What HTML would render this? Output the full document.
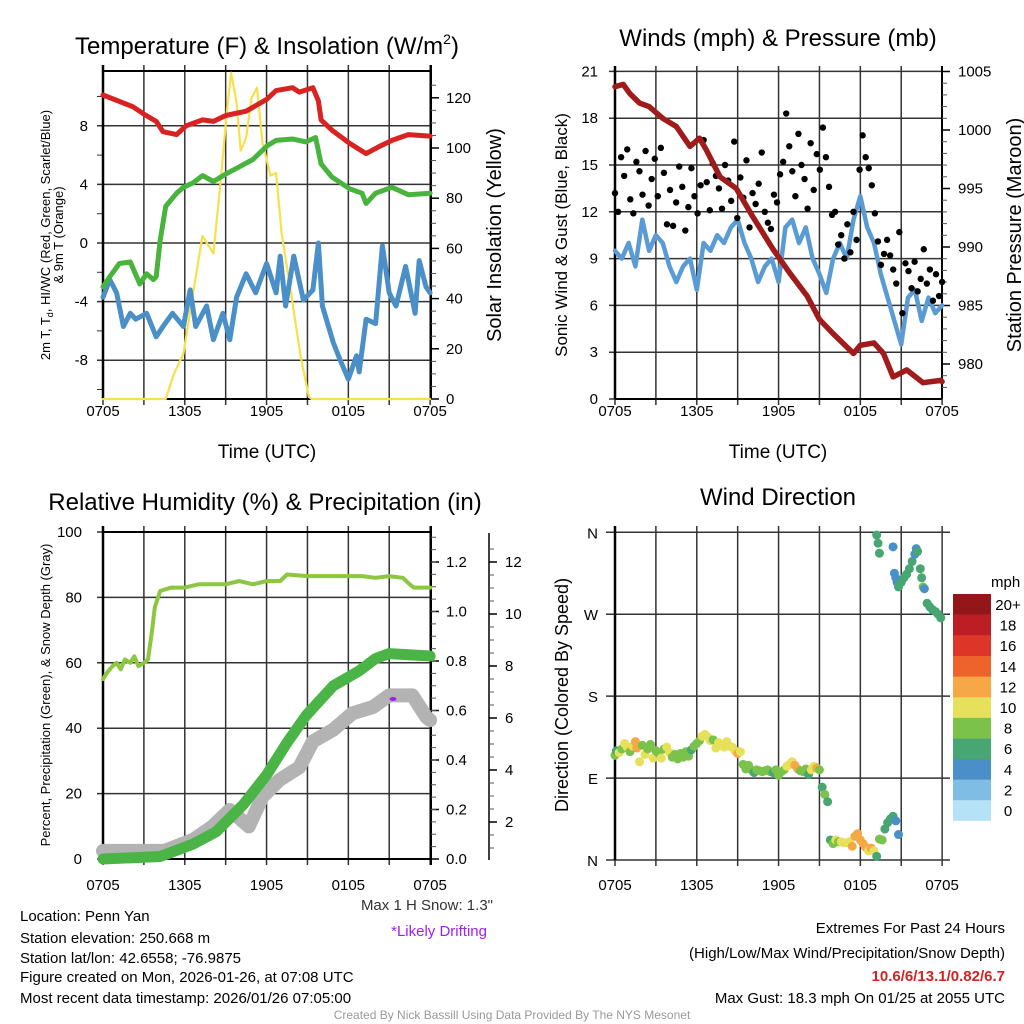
<!DOCTYPE html>
<html><head><meta charset="utf-8">
<style>
html,body{margin:0;padding:0;background:#fff;}
svg{display:block;font-family:"Liberation Sans",sans-serif;}
</style></head>
<body>
<svg id="chart" width="1024" height="1024" viewBox="0 0 1024 1024" xmlns="http://www.w3.org/2000/svg">
<text x="267" y="54" font-size="24" text-anchor="middle">Temperature (F) &amp; Insolation (W/m<tspan font-size="14" dy="-10">2</tspan><tspan dy="10">)</tspan></text>
<text x="778" y="46" font-size="24" text-anchor="middle">Winds (mph) &amp; Pressure (mb)</text>
<text x="265" y="510" font-size="24" text-anchor="middle">Relative Humidity (%) &amp; Precipitation (in)</text>
<text x="778" y="505" font-size="24" text-anchor="middle">Wind Direction</text>

<text transform="translate(50,235) rotate(-90)" font-size="13" text-anchor="middle">2m T, T<tspan font-size="9" dy="3">d</tspan><tspan dy="-3">, HI/WC (Red, Green, Scarlet/Blue)</tspan></text>
<text transform="translate(63,235) rotate(-90)" font-size="13" text-anchor="middle">&amp; 9m T (Orange)</text>
<text transform="translate(501,235) rotate(-90)" font-size="20" text-anchor="middle">Solar Insolation (Yellow)</text>
<text transform="translate(567,235) rotate(-90)" font-size="17" text-anchor="middle">Sonic Wind &amp; Gust (Blue, Black)</text>
<text transform="translate(1021,235) rotate(-90)" font-size="20" text-anchor="middle">Station Pressure (Maroon)</text>
<text transform="translate(50,695) rotate(-90)" font-size="13" text-anchor="middle">Percent, Precipitation (Green), &amp; Snow Depth (Gray)</text>
<text transform="translate(568,695) rotate(-90)" font-size="18" text-anchor="middle">Direction (Colored By Speed)</text>
<text x="267" y="458" font-size="19" text-anchor="middle">Time (UTC)</text>
<text x="778" y="458" font-size="19" text-anchor="middle">Time (UTC)</text>

<g font-size="15">
<text x="20" y="921">Location: Penn Yan</text>
<text x="20" y="943">Station elevation: 250.668 m</text>
<text x="20" y="963">Station lat/lon: 42.6558; -76.9875</text>
<text x="20" y="982">Figure created on Mon, 2026-01-26, at 07:08 UTC</text>
<text x="20" y="1003">Most recent data timestamp: 2026/01/26 07:05:00</text>
<text x="493" y="910" text-anchor="end" fill="#333">Max 1 H Snow: 1.3"</text>
<text x="487" y="936" text-anchor="end" fill="#a020f0">*Likely Drifting</text>
<text x="1005" y="933" text-anchor="end">Extremes For Past 24 Hours</text>
<text x="1005" y="958" text-anchor="end">(High/Low/Max Wind/Precipitation/Snow Depth)</text>
<text x="1005" y="981" text-anchor="end" fill="#d62222" font-weight="bold">10.6/6/13.1/0.82/6.7</text>
<text x="1005" y="1003" text-anchor="end">Max Gust: 18.3 mph On 01/25 at 2055 UTC</text>
<text x="512" y="1019" text-anchor="middle" font-size="12" fill="#999">Created By Nick Bassill Using Data Provided By The NYS Mesonet</text>
</g>
</svg>
<script>
// ---------- data ----------
const xTickLabels = ["0705","1305","1905","0105","0705"];
const tempHours = [0,2.2,3,3.9,4.4,5.4,6.1,7.3,8.1,9,10.5,12,12.7,13.9,14.4,15.4,15.8,16,16.8,18.1,19.3,20.3,21.2,22.4,24];
const tempVals  = [10.1,9.3,8.8,8.3,7.6,7.4,8.0,8.4,8.3,8.7,9.0,9.8,10.4,10.6,10.3,10.6,9.7,8.4,7.7,6.8,6.1,6.6,7.0,7.4,7.3];
const dewHours = [0,0.5,1.2,2,2.7,3.2,3.7,3.9,4.2,4.6,5.4,5.9,6.6,7.3,8.1,9,10,11,12,12.7,13.9,14.9,15.6,16,16.8,18.1,19,19.3,20,21.2,22.4,24];
const dewVals  = [-3.0,-2.3,-1.4,-1.3,-2.8,-2.1,-2.5,-2.3,0.2,2.5,3.4,3.8,4.1,4.6,4.2,4.7,5.2,5.7,6.6,7.0,7.1,6.9,7.2,5.4,4.5,3.7,3.4,2.7,3.4,3.8,3.3,3.4];
const chillHours = [0,0.5,1,1.5,2,2.4,3.2,3.9,4.4,5.1,5.9,6.4,6.8,7.6,8.1,8.8,9.3,9.8,10.5,11.2,12,12.7,13,13.4,14,14.7,15.4,15.8,16.1,16.9,17.4,18,18.6,18.8,19.3,20,20.5,21,21.5,22.2,22.9,23.2,23.7,24];
const chillVals  = [-3.7,-2.5,-3.4,-5.7,-4.8,-5.2,-4.8,-6.4,-5.7,-4.8,-5.7,-3.2,-5.7,-4.3,-6.6,-4.8,-6.6,-3.7,-2.1,-3.4,-1.4,-3.4,-0.9,-4.3,-0.9,-3.9,-3.2,0,-4.3,-6.8,-8.0,-9.3,-7.7,-8.8,-5.2,-5.5,-0.2,-3.4,-4.3,-1.6,-4.8,-1.2,-3.0,-3.4];
const solHours = [0,4.6,5.2,5.9,6.6,7.3,8.1,8.6,9.1,9.4,9.8,10.1,10.5,10.9,11.3,11.7,12.3,12.7,13.1,13.8,14.5,15.1,15.3,24];
const solVals  = [0,0,10,18,42,65,58,85,115,130,118,99,104,120,124,102,89,90,66,42,17,1,0,0];
const tempTicks = [-8,-4,0,4,8];
const solTicks = [0,20,40,60,80,100,120];

const windVals = [9.5,9,10,8.5,11.5,9.5,10.5,10,8.5,7.5,8.5,9,7,10,9.5,10.5,10,11,11.5,10,9,7.5,8.5,9,7.5,11,11.5,10,11,9,8,6.8,9,10,9,11.5,13,11,10,8,6.5,5,3.5,6.5,7,5,6.5,5.5,6];
const gustVals = [13.2,12.0,15.5,14.3,16.0,12.8,11.9,15.2,14.6,13.1,15.9,12.4,14.1,15.4,13.0,16.1,14.5,11.2,
 13.4,11.1,12.6,14.9,13.6,10.8,12.3,14.8,13.0,11.9,13.7,16.6,13.9,12.1,15.1,14.3,13.5,12.2,
 15.0,14.0,12.7,16.5,11.6,14.2,12.9,15.3,11.0,13.2,12.5,13.8,15.8,12.0,11.3,10.9,13.1,12.6,
 14.4,15.2,18.3,16.2,14.6,13.0,17.0,15.0,14.1,12.2,16.4,13.4,15.7,14.7,17.4,15.5,13.6,11.8,
 12.0,9.9,10.5,9.0,11.2,9.4,12.0,10.2,14.7,16.9,15.5,14.8,13.7,11.9,10.1,8.6,9.3,10.2,
 9.2,8.3,7.4,10.7,5.5,8.7,8.2,7.1,8.8,6.9,7.7,9.6,7.4,8.3,6.3,8.0,6.6,7.5];
const presHours = [0,0.6,1.1,1.8,2.5,3.5,4.5,5.5,6.2,6.7,7.7,8.9,10.1,11.6,12.8,14.1,15,16,17.5,18,19,19.7,20.4,21.4,22.6,23.9,24];
const presVals  = [1003.7,1003.9,1003.1,1002.3,1002,1001,1000.3,998.6,999.3,998.3,996,995,992.6,989.8,987.8,985.8,983.8,982.6,980.9,981.6,981.8,980.9,978.9,979.5,978.4,978.6,978.5];
const windTicks = [0,3,6,9,12,15,18,21];
const presTicks = [980,985,990,995,1000,1005];

const rhHours = [0,0.3,0.7,1,1.3,1.6,2,2.3,2.6,3,3.3,3.6,3.8,4.2,5,6,7,8,9,10,11,12,13,13.5,15,17,19,20,21,22,22.5,22.8,24];
const rhVals  = [55,57,59,60,58,61,60,62,59,60,61,70,77,82,83,83,84,84,84,85,84,85,85,87,86.5,86.5,86.5,86,86.5,86,84,83,83];
const precipHours = [0,4.2,6.6,8.3,10.3,12,13.5,14.9,16.9,18.8,20,21,24];
const precipVals  = [0,0.01,0.06,0.11,0.22,0.34,0.47,0.58,0.70,0.76,0.81,0.83,0.82];
const snowHours = [0,4.5,6.6,8,9.3,10.7,11.7,12.9,14.4,15.4,16.9,18.3,19.8,21,22.7,23.7,24];
const snowVals  = [0.89,0.89,1.31,1.81,2.46,1.83,2.97,3.6,4.1,5.1,5.55,6.18,6.42,6.87,6.87,6.05,5.92];
const rhTicks = [0,20,40,60,80,100];
const precipTicks = [0,0.2,0.4,0.6,0.8,1.0,1.2];
const snowTicks = [2,4,6,8,10,12];

const dirHours = [0,0.1,0.3,0.5,0.7,0.9,1.1,1.3,1.5,1.6,1.8,2,2.2,2.4,2.6,2.8,3,3.2,3.4,3.6,3.8,4,4.2,4.4,4.6,4.8,5,5.2,5.4,5.6,5.8,6,6.2,6.4,6.6,6.8,7,7.2,7.4,7.6,7.8,8,8.2,8.4,8.6,8.8,9,9.2,9.4,9.6,9.8,10,10.2,10.4,10.6,10.8,11,11.2,11.4,11.6,11.8,12,12.2,12.4,12.6,12.8,13,13.2,13.4,13.6,13.8,14,14.2,14.4,14.6,14.8,15,15.2,15.4,15.6,15.8,16,16.2,16.4,16.6,16.8,17,17.2,17.4,17.6,17.8,18,18.2,18.4,18.6,18.8,19,19.2,19.4,19.6,19.8,20,20.2,20.4,20.6,20.8,19.2,19.3,19.4,20.4,20.5,20.6,20.7,20.8,21,21.2,21.4,21.6,21.8,22,22.1,22.2,22.4,22.5,22.6,22.7,22.9,23.1,23.3,23.5,23.7,23.9];
const dirVals = [115,120,118,122,128,124,119,125,130,123,108,126,116,122,127,112,120,117,112,122,124,118,113,116,111,117,113,119,114,121,125,128,131,136,138,135,131,132,123,129,126,124,130,125,124,120,117,119,105,100,104,99,96,99,98,97,98,99,97,96,99,93,97,99,103,105,108,104,100,98,97,100,94,99,103,101,99,80,72,64,22,18,22,20,20,19,19,20,15,26,29,22,18,14,10,13,10,4,23,22,34,41,45,48,43,28,357,348,337,344,315,310,305,300,305,310,314,320,328,336,342,339,320,310,300,298,282,278,275,273,270,266];
const dirSpeeds = [9,7,10,9,10,10,9,11,13,12,10,9,10,8,9,10,9,8,10,9,10,11,8,9,8,8,9,8,8,7,8,9,8,10,10,11,10,9,10,11,10,11,10,10,10,11,12,10,8,8,9,8,6,8,8,8,9,8,8,7,9,8,8,8,10,10,11,12,13,8,8,8,7,10,10,12,8,6,8,6,7,8,10,8,10,10,10,11,12,13,13,12,12,12,10,12,10,6,8,8,6,6,6,6,4,4,6,6,6,4,4,4,4,6,6,6,6,6,6,4,4,6,6,6,8,4,6,6,6,6,6,6];
const speedBins = ["0","2","4","6","8","10","12","14","16","18","20+"];
const binColors = ["#b5e2f6","#7fbde4","#4a8fc7","#48a672","#7bc24a","#e6e05a","#f5a845","#ee632b","#de3529","#bd1e26","#931719"];
const dirTickLabels = ["N","E","S","W","N"];
const dirTicks = [0,90,180,270,360];

// ---------- helpers ----------
const svg = document.getElementById('chart');
const NS = 'http://www.w3.org/2000/svg';
function mk(tag, attrs, name, parent){
  const el = document.createElementNS(NS, tag);
  for (const k in attrs) el.setAttribute(k, attrs[k]);
  
  
  (parent || svg).appendChild(el);
  return el;
}
function line(x1,y1,x2,y2,stroke,w,name){ return mk('line',{x1:x1,y1:y1,x2:x2,y2:y2,stroke:stroke,'stroke-width':w},name); }
function txt(x,y,s,size,anchor,name){ const t = mk('text',{x:x,y:y,'font-size':size,'text-anchor':anchor},name); t.textContent = s; return t; }
function poly(xs,ys,fx,fy,stroke,w,name){
  const pts = xs.map((h,i)=>fx(h).toFixed(1)+','+fy(ys[i]).toFixed(1)).join(' ');
  return mk('polyline',{points:pts,fill:'none',stroke:stroke,'stroke-width':w,'stroke-linejoin':'round','stroke-linecap':'round'},name);
}
function xGridAndLabels(x0,x1,yTop,yBot,labY,fx,prefix){
  for (let h=0; h<=24; h+=3){
    line(fx(h),yTop-6,fx(h),yBot+6,'#333',1.5,prefix+'-x-gridline');
  }
  xTickLabels.forEach((s,i)=>txt(fx(i*6),labY,s,15,'middle',prefix+'-x-tick-label'));
}

// ---------- panel 1: temperature ----------
const X1 = h => 103 + h*13.63;
const TY = v => 243 - v*14.65;
const SY = v => 399 - v*2.51;
xGridAndLabels(103,431,71,399,416,X1,'temp');
tempTicks.forEach(v=>{ line(97,TY(v),431,TY(v),'#333',1.5,'temp-y-gridline'); txt(88,TY(v)+5,String(v),15,'end','temp-y-tick-label'); });
for (let v=-10; v<=10; v+=4) line(97,TY(v),103,TY(v),'#333',1,'temp-y-minor-tick');
line(103,71,431,71,'#000',2,'temp-top-border');
line(103,65,103,399,'#000',2.5,'temp-left-axis');
line(431,65,431,399,'#000',2,'temp-right-axis');
line(103,399,431,399,'#000',2,'temp-bottom-border');
solTicks.forEach(v=>{ line(431,SY(v),439,SY(v),'#000',1.5,'insolation-tick'); txt(446,SY(v)+5,String(v),15,'start','insolation-tick-label'); });
for (let v=5; v<130; v+=5) if (v%20) line(431,SY(v),436,SY(v),'#555',1,'insolation-minor-tick');
poly(solHours,solVals,X1,SY,'#f8e04a',2.2,'insolation-line');
poly(chillHours,chillVals,X1,TY,'#4a8fc8',5,'wind-chill-line');
poly(dewHours,dewVals,X1,TY,'#48b43e',5,'dewpoint-line');
poly(tempHours,tempVals,X1,TY,'#d92323',5,'temperature-line');

// ---------- panel 2: winds ----------
const X2 = h => 615 + h*13.63;
const WY = v => 399 - v*15.6;
const PY = p => 364 - (p-980)*11.7;
xGridAndLabels(615,942,72,399,416,X2,'wind');
windTicks.forEach(v=>{ line(609,WY(v),942,WY(v),'#333',1.5,'wind-y-gridline'); txt(598,WY(v)+5,String(v),15,'end','wind-y-tick-label'); });
line(615,66,615,399,'#000',2.5,'wind-left-axis');
line(942,66,942,399,'#000',2,'wind-right-axis');
line(615,399,942,399,'#000',2,'wind-bottom-border');
presTicks.forEach(p=>{ line(942,PY(p),950,PY(p),'#000',1.5,'pressure-tick'); txt(958,PY(p)+5,String(p),15,'start','pressure-tick-label'); });
for (let p=978; p<1005; p++) if (p%5) line(942,PY(p),947,PY(p),'#555',1,'pressure-minor-tick');
const windHours = windVals.map((v,i)=>i*24/(windVals.length-1));
poly(windHours,windVals,X2,WY,'#5a9bd4',4.5,'sonic-wind-line');
gustVals.forEach((v,i)=>{
  const h = i*24/(gustVals.length-1);
  mk('circle',{cx:X2(h),cy:WY(v),r:3.2,fill:'#000'},'gust-point');
});
poly(presHours,presVals,X2,PY,'#a01b1b',5.5,'pressure-line');

// ---------- panel 3: RH ----------
const X3 = h => 103 + h*13.63;
const RY = v => 859 - v*3.27;
const PRY = v => 859 - v*247.5;
const SNY = v => 874 - v*26;
xGridAndLabels(103,431,532,859,890,X3,'rh');
rhTicks.forEach(v=>{ line(97,RY(v),431,RY(v),'#333',1.5,'rh-y-gridline'); txt(82,RY(v)+5,String(v),15,'end','rh-y-tick-label'); });
line(103,532,431,532,'#000',2,'rh-top-border');
line(103,526,103,859,'#000',2.5,'rh-left-axis');
line(431,526,431,865,'#000',2,'precip-axis');
line(103,859,431,859,'#000',2,'rh-bottom-border');
precipTicks.forEach(v=>{ line(431,PRY(v),439,PRY(v),'#000',1.5,'precip-tick'); txt(446,PRY(v)+5,v.toFixed(1),15,'start','precip-tick-label'); });
for (let v=0.05; v<1.32; v+=0.05) line(431,PRY(v),436,PRY(v),'#555',1,'precip-minor-tick');
line(489,533,489,860,'#000',1.5,'snow-axis');
snowTicks.forEach(v=>{ line(489,SNY(v),497,SNY(v),'#000',1.5,'snow-tick'); txt(505,SNY(v)+5,String(v),15,'start','snow-tick-label'); });
for (let v=1; v<13; v+=0.5) if (v%2) line(489,SNY(v),494,SNY(v),'#555',1,'snow-minor-tick');
poly(snowHours,snowVals,X3,SNY,'#b3b3b3',14,'snow-depth-line');
poly(precipHours,precipVals,X3,PRY,'#4ab546',11,'precip-line');
poly(rhHours,rhVals,X3,RY,'#8dc63f',4,'rh-line');
mk('ellipse',{cx:393,cy:699,rx:3.5,ry:2,fill:'#a020f0'},'drifting-marker');

// ---------- panel 4: wind direction ----------
const X4 = h => 615 + h*13.63;
const DY = d => 860 - d*0.9103;
xGridAndLabels(615,942,532,860,890,X4,'dir');
dirTicks.forEach((d,i)=>{ line(606,DY(d),950,DY(d),'#333',1.5,'dir-y-gridline'); txt(598,DY(d)+6,dirTickLabels[i],15,'end','dir-y-tick-label'); });
line(615,526,615,860,'#000',2.5,'dir-left-axis');
dirVals.forEach((d,i)=>{
  const sp = dirSpeeds[i] === undefined ? 6 : dirSpeeds[i];
  const b = Math.min(10, Math.floor(sp/2));
  mk('circle',{cx:X4(dirHours[i]),cy:DY(d),r:4.5,fill:binColors[b]},'direction-point');
});
txt(991,587,'mph',15,'start','speed-legend-title');
speedBins.forEach((s,i)=>{
  const y = 594 + (10-i)*20.6;
  mk('rect',{x:953,y:y,width:38,height:20.8,fill:binColors[i]},'speed-legend-swatch');
  txt(1008,y+16,s,15,'middle','speed-legend-label');
});
</script>
</body></html>
